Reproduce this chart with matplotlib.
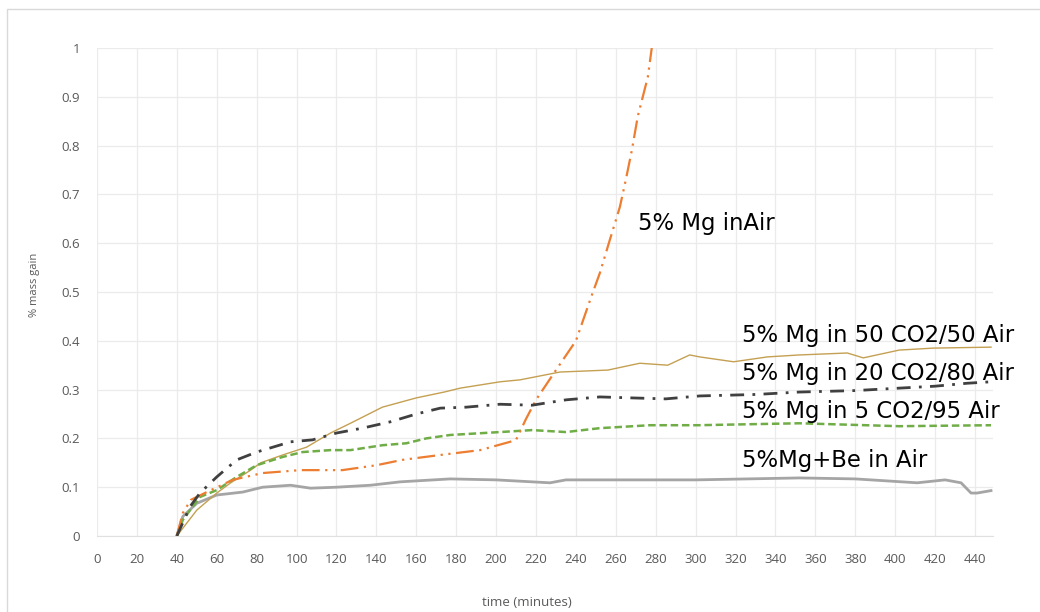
"""
plot.py - mass gain vs time for 5% Mg alloys in different atmospheres.
"""

import matplotlib
matplotlib.use("Agg")
import matplotlib.pyplot as plt
from matplotlib.patches import Rectangle

# ---- data ----
be_air_x = [40, 43, 50, 60, 73, 83, 97, 107, 120, 137, 152, 177, 200, 227, 235,
            260, 300, 352, 380, 411, 425, 433, 438, 441, 448]
be_air_y = [0, 0.04, 0.067, 0.084, 0.09, 0.1, 0.104, 0.098, 0.1, 0.104, 0.111, 0.117,
            0.115, 0.109, 0.115, 0.115, 0.115, 0.119, 0.117, 0.109, 0.115, 0.109,
            0.088, 0.088, 0.093]

air_x = [40, 43, 47, 55, 68, 83, 102, 123, 140, 153, 172, 192, 207, 210, 215, 220,
         230, 240, 248, 252, 257, 262, 265, 268, 271, 276, 278]
air_y = [0, 0.047, 0.074, 0.09, 0.115, 0.129, 0.135, 0.135, 0.145, 0.156, 0.166,
         0.176, 0.193, 0.197, 0.24, 0.279, 0.34, 0.40, 0.494, 0.539, 0.607, 0.674,
         0.73, 0.79, 0.86, 0.94, 1.0]

co2_20_x = [40, 46.6, 51.6, 60, 70, 80, 97, 108, 120, 133, 147, 160, 172, 185, 202,
            218, 235, 252, 268, 285, 302, 330, 352, 380, 402, 420, 436, 448]
co2_20_y = [0, 0.06, 0.088, 0.121, 0.156, 0.172, 0.193, 0.197, 0.211, 0.221, 0.234,
            0.25, 0.262, 0.264, 0.27, 0.268, 0.279, 0.285, 0.283, 0.281, 0.287, 0.29,
            0.295, 0.298, 0.303, 0.307, 0.313, 0.316]

co2_50_x = [40, 50, 60, 67, 77, 82, 93, 105, 117, 127, 143, 160, 174, 182, 202, 212,
            232, 256, 272, 286, 297, 302, 319, 336, 352, 376, 384, 402, 419, 448]
co2_50_y = [0, 0.053, 0.088, 0.109, 0.135, 0.15, 0.166, 0.182, 0.211, 0.231, 0.264,
            0.283, 0.295, 0.303, 0.316, 0.32, 0.336, 0.34, 0.354, 0.35, 0.371, 0.367,
            0.357, 0.367, 0.371, 0.375, 0.365, 0.381, 0.385, 0.387]

co2_5_x = [40, 43, 51.6, 60, 70, 80, 93, 103, 117, 127, 143, 155, 165, 177, 202, 218,
           235, 252, 277, 301, 352, 402, 448]
co2_5_y = [0, 0.033, 0.08, 0.094, 0.121, 0.145, 0.162, 0.172, 0.176, 0.176, 0.186,
           0.19, 0.2, 0.207, 0.213, 0.217, 0.213, 0.221, 0.227, 0.227, 0.231, 0.225,
           0.227]

labels = ["5% Mg inAir", "5% Mg in 50 CO2/50 Air", "5% Mg in 20 CO2/80 Air",
          "5% Mg in 5 CO2/95 Air", "5%Mg+Be in Air"]
x_ticks = list(range(0, 441, 20))
y_ticks = [i / 10 for i in range(11)]

# ---- figure ----
fig = plt.figure(figsize=(10.4, 6.12), dpi=100)
ax = fig.add_axes([97 / 1040, 1 - 536 / 612, (993 - 97) / 1040, (536 - 48) / 612])

# thin frame around the chart area (Excel chart border)
fig.patches.append(Rectangle((7 / 1040, -0.2), 1.2, 1.2 - 9 / 612, transform=fig.transFigure,
                             fill=False, edgecolor="#d9d9d9", lw=1))

ax.plot(be_air_x, be_air_y, color="#a5a5a5", lw=2.0, zorder=3)
ax.plot(co2_50_x, co2_50_y, color="#c4a052", lw=1.0, zorder=4)
ax.plot(co2_5_x, co2_5_y, color="#70ad47", lw=1.8, ls=(0, (3, 1.5)), zorder=5)
ax.plot(air_x, air_y, color="#ed7d31", lw=1.6, ls=(0, (8, 2.5, 1, 2.5, 1, 2.5)), zorder=6)
ax.plot(co2_20_x, co2_20_y, color="#404040", lw=2.0, ls=(0, (5, 3, 1, 3)), zorder=7)

# series labels
txt_pos = [(271, 0.627), (323, 0.398), (323, 0.320), (323, 0.242), (323, 0.142)]
for (tx, ty), lab in zip(txt_pos, labels):
    ax.text(tx, ty, lab, fontsize=16.4, color="black", va="baseline", ha="left",
            family="DejaVu Sans", zorder=10)

ax.set_xlim(0, 449)
ax.set_ylim(0, 1)
ax.set_xticks(x_ticks)
ax.set_yticks(y_ticks)
ax.set_yticklabels(["0"] + [f"{v:.1f}" for v in y_ticks[1:-1]] + ["1"])
ax.tick_params(length=0, labelsize=9.5, labelcolor="#595959", pad=12)
for lab in ax.get_xticklabels() + ax.get_yticklabels():
    lab.set_family("Open Sans")
ax.grid(color="#ebebeb", lw=0.9)
ax.set_axisbelow(True)
for side in ["top", "right", "left"]:
    ax.spines[side].set_visible(False)
ax.spines["bottom"].set_color("#e0e0e0")

fig.text(35 / 1040, 1 - 285 / 612, "% mass gain", rotation=90, ha="center", va="center",
         fontsize=8, color="#595959", family="Open Sans")
fig.text(527 / 1040, 1 - 603 / 612, "time (minutes)", ha="center", va="center",
         fontsize=9.5, color="#595959", family="Open Sans")

fig.savefig("out.png", dpi=100)
plt.close(fig)
